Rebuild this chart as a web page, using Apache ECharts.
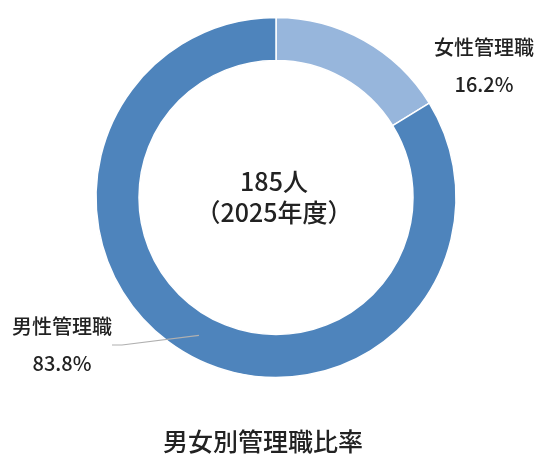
<!DOCTYPE html>
<html><head><meta charset="utf-8">
<script src="https://cdn.jsdelivr.net/npm/echarts@6/dist/echarts.min.js"></script>
<style>html,body{margin:0;padding:0;background:#fff}#c{width:554px;height:474px}</style>
</head><body><div id="c"></div>
<script>
const categories = ['女性管理職', '男性管理職'];
const values = [30, 155];
const colors = ['#97b6dc', '#4e84bc'];
const centerUnit = '人';
const yearLabel = '（2025年度）';
const chartTitle = '男女別管理職比率';

const total = values.reduce((a, b) => a + b, 0);
const FONT = '"Noto Sans CJK JP", "Noto Sans", sans-serif';
const chart = echarts.init(document.getElementById('c'));
const data = categories.map((n, i) => ({ name: n, value: values[i], itemStyle: { color: colors[i] } }));
const labelPos = [{ x: 484, y: 66 }, { x: 62, y: 345 }];

chart.setOption({
  animation: false,
  title: [
    { text: total + centerUnit + '\n' + yearLabel, left: 274, top: 166, textAlign: 'center', padding: 0,
      textStyle: { fontFamily: FONT, fontSize: 25, fontWeight: 500, color: '#222', lineHeight: 31 } },
    { text: chartTitle, left: 263, top: 429, textAlign: 'center', padding: 0,
      textStyle: { fontFamily: FONT, fontSize: 25, fontWeight: 500, color: '#222' } }
  ],
  series: [
    { type: 'pie', center: [276, 197.5], radius: [137, 180], startAngle: 90, clockwise: true,
      silent: true, z: 2, label: { show: false }, labelLine: { show: false },
      itemStyle: { borderColor: '#fff', borderWidth: 1.5 }, data: data },
    { type: 'pie', center: [276, 197.5], radius: [0, 158], startAngle: 90, clockwise: true,
      silent: true, z: 5, zlevel: 1, percentPrecision: 1,
      itemStyle: { color: 'rgba(0,0,0,0)' },
      data: categories.map((n, i) => ({ name: n, value: values[i], labelLine: { show: i === 1 } })),
      label: { show: true, position: 'outside', formatter: '{b}\n{d}%',
        fontFamily: FONT, fontSize: 20, fontWeight: 500, color: '#222', lineHeight: 37, align: 'center' },
      labelLine: { show: true, length: 10, length2: 10, lineStyle: { color: '#b0b0b0', width: 1.2 } },
      labelLayout: function (p) {
        const pos = labelPos[p.dataIndex];
        return { x: pos.x, y: pos.y, align: 'center', verticalAlign: 'middle' };
      }
    }
  ]
});
</script></body></html>
